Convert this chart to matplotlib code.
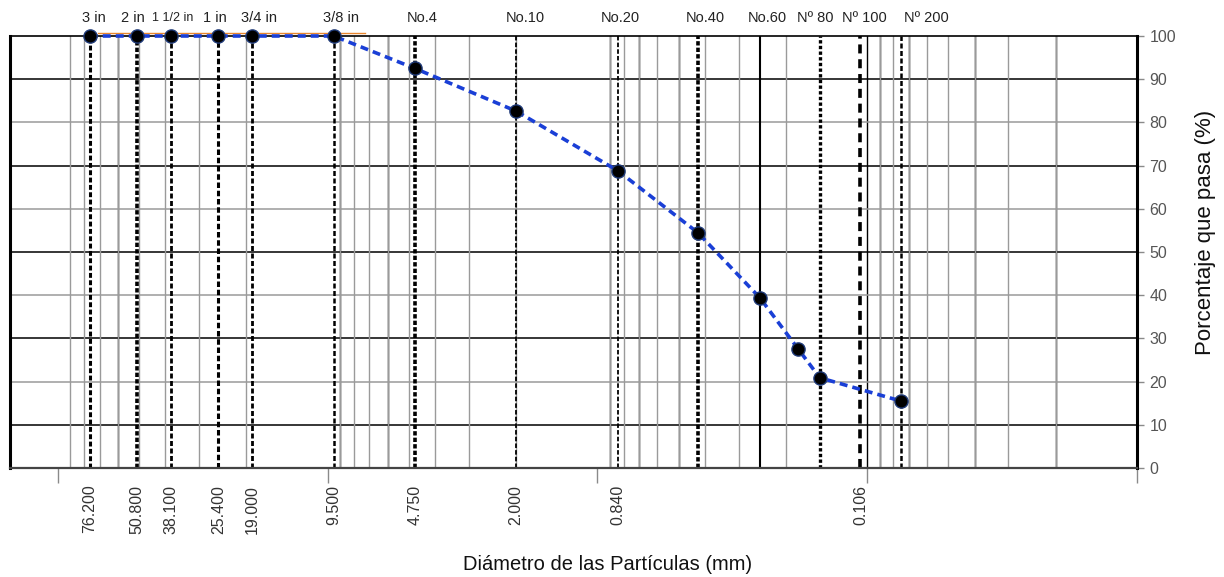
import matplotlib
matplotlib.use("Agg")
import matplotlib.pyplot as plt
from matplotlib.ticker import LogLocator, NullFormatter

plt.rcParams["font.family"] = ["Liberation Sans", "DejaVu Sans"]

# granulometria: tamaño de tamiz (mm) y % que pasa
sizes = [76.2, 50.8, 38.1, 25.4, 19.0, 9.5, 4.75, 2.0, 0.84, 0.425, 0.25, 0.18, 0.15, 0.075]
passing = [100, 100, 100, 100, 100, 100, 92.5, 82.6, 68.8, 54.5, 39.4, 27.5, 20.9, 15.5]

# tamices marcados con lineas verticales
sieve_mm = [76.2, 50.8, 38.1, 25.4, 19.0, 9.5, 4.75, 2.0, 0.84, 0.425, 0.25, 0.15, 0.106, 0.075]
sieve_names = ["3 in", "2 in", "1 1/2 in", "1 in", "3/4 in", "3/8 in", "No.4", "No.10",
               "No.20", "No.40", "No.60", "Nº 80", "Nº 100", "Nº 200"]
# (linewidth, dashes) per sieve line; None = solid
sieve_style = [(2.2, (1.6, 0.8)), (2.6, (1.2, 0.6)), (2.0, (1.8, 0.9)), (2.2, (1.8, 0.9)),
               (2.0, (1.8, 0.9)), (1.8, (2.0, 1.0)), (2.6, (1.2, 0.6)), (1.3, (2.5, 1.2)),
               (1.3, (2.5, 1.2)), (2.6, (1.2, 0.6)), (1.5, None), (2.4, (1.0, 0.7)),
               (2.6, (2.5, 1.6)), (1.8, (2.0, 1.0))]
# horizontal nudge of each sieve name (pixels) and its font size
label_dx = [4, -4, 2, -4, 7, 7, 7, 9, 2, 8, 7, -4, 4, 25]
label_fs = [10.5, 10.5, 9, 10.5, 10.5, 10.5, 10.5, 10.5, 10.5, 10.5, 10.5, 10.5, 10.5, 10.5]

xtick_mm = [76.2, 50.8, 38.1, 25.4, 19.0, 9.5, 4.75, 2.0, 0.84, 0.106]
yticks = list(range(0, 101, 10))

# minor grid lines that render dark in the original
dark_grid = [60, 9, 6, 0.9, 0.7, 0.5, 0.1, 0.09, 0.07, 0.04, 0.02]

# stray orange line above the 100 % level
orange_x = [71.2, 7.3]
orange_y = [100.8, 100.8]

BLUE = "#1a3fd6"
W, H = 1224, 577
fig = plt.figure(figsize=(W / 100, H / 100), dpi=100)
ax = fig.add_axes([10 / W, 1 - 468 / H, 1127 / W, 432 / H])

ax.set_xscale("log")
ax.set_xlim(150.5, 0.01)
ax.set_ylim(0, 100)

# grid
ax.xaxis.set_minor_locator(LogLocator(base=10, subs=range(1, 10), numticks=50))
ax.xaxis.set_minor_formatter(NullFormatter())
ax.grid(True, which="minor", axis="x", color="#9a9a9a", lw=1.0)
for g in dark_grid:
    ax.axvline(g, color="black", lw=1.0, zorder=1)
for v in yticks[1:-1]:
    ax.axhline(v, color="black" if v % 20 else "#9a9a9a", lw=1.1, zorder=1)

# sieve lines
for s, (lw, dash) in zip(sieve_mm, sieve_style):
    ln = ax.axvline(s, color="black", lw=lw, zorder=2)
    if dash is not None:
        ln.set_dashes(dash)

for s, name, dx, fs in zip(sieve_mm, sieve_names, label_dx, label_fs):
    ax.annotate(name, xy=(s, 1.042), xycoords=("data", "axes fraction"),
                xytext=(dx * 0.72, 0), textcoords="offset points", ha="center",
                va="center", fontsize=fs, color="#222222", annotation_clip=False)

ax.plot(orange_x, orange_y, color="#e8862e", lw=1.0, clip_on=False, zorder=3)

# curve
curve, = ax.plot(sizes, passing, color=BLUE, lw=2.6, zorder=4, clip_on=False)
curve.set_dashes((2.2, 1.4))
ax.plot(sizes, passing, ls="none", marker="o", ms=9.5, mfc="black", mec="#1f3a78",
        mew=1.0, zorder=5, clip_on=False)

# axes / ticks
ax.set_xticks([100, 10, 1, 0.1, 0.01])
ax.set_xticklabels([])
ax.xaxis.set_minor_locator(LogLocator(base=10, subs=range(1, 10), numticks=50))
ax.tick_params(axis="x", which="major", direction="out", length=11, width=1.0, color="#8a8a8a")
ax.tick_params(axis="x", which="minor", length=0)
for s in xtick_mm:
    ax.annotate(f"{s:.3f}", xy=(s, 0), xycoords=("data", "axes fraction"),
                xytext=(0, -12), textcoords="offset points", rotation=90,
                ha="center", va="top", fontsize=11.5, color="#333333")

ax.yaxis.tick_right()
ax.set_yticks(yticks)
ax.tick_params(axis="y", direction="out", length=5, width=1.0, color="#8a8a8a",
               labelsize=11.5, labelcolor="#555555", pad=4)

for side in ("left", "right"):
    ax.spines[side].set_linewidth(2.2)
    ax.spines[side].set_color("black")
ax.spines["top"].set_linewidth(1.2)
ax.spines["bottom"].set_linewidth(1.6)
ax.spines["bottom"].set_color("#444444")

ax.text(1.0604, 0.546, "Porcentaje que pasa (%)", transform=ax.transAxes,
        rotation=90, ha="center", va="center", fontsize=16, color="#111111")
ax.text(0.5306, -0.2245, "Diámetro de las Partículas (mm)", transform=ax.transAxes,
        ha="center", va="center", fontsize=14.5, color="#111111")

fig.savefig("out.png", dpi=100)
